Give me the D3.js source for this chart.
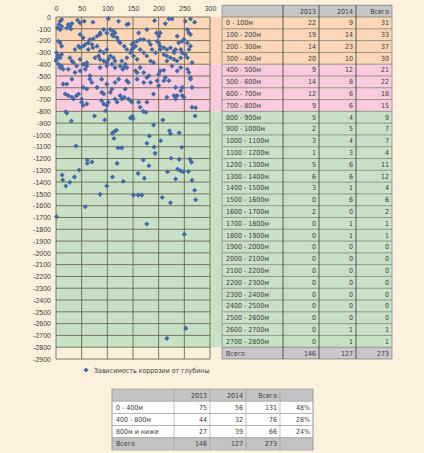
<!DOCTYPE html>
<html>
<head>
<meta charset="utf-8">
<script src="https://cdn.jsdelivr.net/npm/d3@7"></script>
<style>
	body{margin:0;background:#fdf1de;}
	svg{display:block;font-family:"Liberation Sans Narrow","DejaVu Sans Condensed","Roboto Condensed",sans-serif;}
	text{fill:#3b3b3b;}
</style>
</head>
<body>
<svg class="depthChart" width="424" height="453"></svg>
<script>

// x ticks / y ticks
var xTicks = [0,50,100,150,200,250,300];
var yTicks = [0,-100,-200,-300,-400,-500,-600,-700,-800,-900,-1000,-1100,-1200,-1300,-1400,-1500,-1600,-1700,-1800,-1900,-2000,-2100,-2200,-2300,-2400,-2500,-2600,-2700,-2800,-2900];

// depth zones (top, bottom, colour name)
var zones = [
	{from:0, to:-400, key:'a'},
	{from:-400, to:-800, key:'b'},
	{from:-800, to:-2800, key:'c'}
];

// scatter: [x, depth]
var points = [
	[11,-22],[8,-36],[6,-64],[11,-79],[8,-107],[3,-93],
	[24,-64],[27,-79],[21,-93],[29,-101],[31,-56],
	[42,-28],[47,-50],[55,-36],[72,-45],
	[102,-14],[106,-107],[112,-121],[99,-135],[109,-149],[115,-135],[93,-107],[86,-135],
	[122,-36],[138,-64],[141,-59],[161,-135],[177,-107],
	[192,-31],[196,-135],[200,-163],[203,-135],
	[213,-56],[220,-17],[226,-17],
	[252,-36],[262,-17],[270,-45],
	[256,-107],[259,-135],[262,-149],[236,-163],

	[5,-205],[8,-219],[11,-247],
	[47,-149],[53,-177],[66,-191],[73,-185],[80,-163],[86,-149],
	[57,-233],[63,-219],[70,-233],[53,-247],
	[112,-163],[119,-177],[122,-205],[125,-219],[133,-247],
	[151,-219],[158,-205],[164,-191],[151,-261],[148,-275],
	[171,-191],[181,-205],[184,-233],[197,-205],[200,-219],
	[203,-247],[210,-261],[216,-275],[223,-261],
	[239,-219],[246,-205],[249,-191],[256,-219],[262,-247],
	[230,-303],[233,-275],

	[1,-303],[5,-331],[8,-345],[11,-317],
	[37,-275],[44,-247],[47,-261],
	[63,-275],[72,-261],[80,-247],
	[86,-289],[93,-303],[99,-275],
	[106,-331],[112,-345],[138,-275],[145,-303],
	[148,-233],[155,-247],[164,-275],[171,-303],[177,-331],
	[187,-275],[194,-303],[203,-275],[210,-317],
	[216,-331],[223,-345],[230,-289],
	[243,-275],[246,-303],[252,-317],[259,-275],

	[0,-373],[1,-359],[3,-331],
	[27,-345],[31,-373],[34,-387],
	[47,-359],[53,-401],[60,-387],
	[76,-345],[83,-331],[86,-359],[93,-373],[99,-387],
	[102,-359],[115,-373],[128,-373],[138,-345],
	[151,-331],[158,-359],[184,-373],[190,-387],
	[216,-373],[230,-359],[236,-373],
	[243,-345],[256,-345],[265,-387],

	[5,-401],[8,-429],[11,-415],[14,-443],
	[24,-443],[40,-415],[57,-401],[60,-415],[57,-443],
	[47,-457],[37,-471],[86,-429],[99,-415],
	[109,-401],[115,-429],[125,-415],[132,-429],[138,-429],[135,-401],[130,-443],
	[155,-457],[158,-471],[164,-429],
	[171,-471],[181,-499],
	[200,-485],[203,-457],[210,-451],[213,-513],[210,-541],
	[226,-415],[236,-457],[243,-429],[256,-443],[259,-471],[262,-513],
	[31,-527],[21,-569],[14,-569],
	[66,-499],[66,-527],[70,-555],[89,-527],[99,-569],
	[115,-555],[122,-527],[138,-541],[141,-555],[135,-611],
	[158,-527],[171,-555],[177,-513],[184,-555],[197,-541],[200,-583],
	[220,-541],[233,-597],[246,-597],[243,-625],
	[262,-527],[265,-597],
	[18,-653],[24,-667],[31,-681],[34,-695],
	[40,-667],[44,-653],[50,-695],[53,-597],[60,-611],
	[80,-597],[89,-639],[93,-653],[106,-639],[109,-611],
	[125,-667],[128,-695],[133,-681],
	[141,-695],[145,-709],[148,-723],[161,-723],[164,-765],
	[177,-723],[190,-653],
	[216,-681],[230,-667],[236,-667],[246,-667],[233,-695],[249,-681],
	[50,-723],[53,-751],[60,-737],
	[89,-709],[93,-737],[99,-751],[102,-723],
	[115,-695],[119,-723],[265,-765],

	[19,-803],[21,-815],[30,-882],[75,-840],[95,-873],[97,-795],
	[145,-855],[150,-862],[149,-842],[170,-800],[175,-808],[208,-873],[271,-840],[272,-770],
	[190,-916],[110,-985],[114,-970],[118,-960],[221,-964],[223,-990],[240,-981],[182,-1009],
	[113,-1030],[39,-1094],[177,-1071],[204,-1049],[191,-1102],
	[121,-1110],[128,-1110],[193,-1156],[245,-1105],[224,-1198],
	[240,-1207],[261,-1207],[264,-1231],[61,-1213],[61,-1240],[70,-1229],[45,-1297],
	[119,-1241],[170,-1213],[181,-1261],[237,-1290],
	[160,-1326],[217,-1312],[243,-1305],[248,-1312],[258,-1310],[12,-1340],[13,-1383],
	[36,-1357],[110,-1357],[131,-1393],[172,-1368],[233,-1374],[265,-1385],[27,-1402],
	[19,-1433],[99,-1433],[270,-1469],
	[86,-1504],[151,-1510],[160,-1510],[167,-1510],[207,-1530],[223,-1575],[272,-1550],
	[57,-1609],[1,-1693],[177,-1755],[250,-1843],[253,-2640],[216,-2725]
];

// table by 100 m
var depthLabels = ['0 - 100м','100 - 200м','200 - 300м','300 - 400м','400 - 500м','500 - 600м','600 - 700м','700 - 800м',
	'800 - 900м','900 - 1000м','1000 - 1100м','1100 - 1200м','1200 - 1300м','1300 - 1400м','1400 - 1500м','1500 - 1600м',
	'1600 - 1700м','1700 - 1800м','1800 - 1900м','1900 - 2000м','2000 - 2100м','2100 - 2200м','2200 - 2300м','2300 - 2400м',
	'2400 - 2500м','2500 - 2600м','2600 - 2700м','2700 - 2800м'];
var count2013 = [22,19,14,20,9,14,12,9,5,2,3,1,5,6,3,0,2,0,0,0,0,0,0,0,0,0,0,0];
var count2014 = [9,14,23,10,12,8,6,6,4,5,4,3,6,6,1,6,0,1,1,0,0,0,0,0,0,0,1,1];
var countAll = [31,33,37,30,21,22,18,15,9,7,7,4,11,12,4,6,2,1,1,0,0,0,0,0,0,0,1,1];
var tableHead = ['','2013','2014','Всего'];
var tableTotal = ['Всего',146,127,273];

// summary table
var sumLabels = ['0 - 400м','400 - 800м','800м и ниже'];
var sum2013 = [75,44,27];
var sum2014 = [56,32,39];
var sumAll = [131,76,66];
var sumShare = ['48%','28%','24%'];
var sumHead = ['','2013','2014','Всего',''];
var sumTotal = ['Всего',146,127,273,''];

var legendText = 'Зависимость коррозии от глубины';

var config = {
	left:56, right:210, top:17, bottom:359,
	tableX:[222,283,319,356,392],
	sumX:[112,174,210,246,280,313],
	sumY:389, sumRow:12.2,
	zoneColors:{a:'#fbd6b8', b:'#f9cbde', c:'#c8e1c6'},
	grid:'#5d5b3f',
	marker:'#4569a6'
};

var svg = d3.select('.depthChart');

var xScale = d3.scaleLinear()
				.domain([0,300])
				.range([config.left,config.right]);

var yScale = d3.scaleLinear()
				.domain([0,-2900])
				.range([config.top,config.bottom]);

//zone bands (run under the table too)
svg.append('g')
	.selectAll('rect')
	.data(zones)
	.enter()
	.append('rect')
	.attr('x',config.left)
	.attr('y',d => yScale(d.from))
	.attr('width',config.tableX[0]-config.left)
	.attr('height',d => yScale(d.to)-yScale(d.from))
	.attr('fill',d => config.zoneColors[d.key]);

//grid
var grid = svg.append('g').attr('stroke',config.grid).attr('stroke-width',0.8);

grid.selectAll('.hline')
	.data(yTicks)
	.enter()
	.append('line')
	.attr('x1',config.left)
	.attr('x2',config.right)
	.attr('y1',d => yScale(d))
	.attr('y2',d => yScale(d));

grid.selectAll('.vline')
	.data(xTicks)
	.enter()
	.append('line')
	.attr('x1',d => xScale(d))
	.attr('x2',d => xScale(d))
	.attr('y1',yScale(0))
	.attr('y2',yScale(-2900));

//axes (labels only)
var xAxisGen = d3.axisTop(xScale).tickValues(xTicks).tickSize(0).tickPadding(6).tickFormat(d => String(d));
var yAxisGen = d3.axisLeft(yScale).tickValues(yTicks).tickSize(0).tickPadding(5).tickFormat(d => String(d));

var xAxis = svg.append('g')
	.attr('transform','translate(0,'+yScale(0)+')')
	.call(xAxisGen);
var yAxis = svg.append('g')
	.attr('transform','translate('+config.left+',0)')
	.call(yAxisGen);

[xAxis,yAxis].forEach(function(ax){
	ax.select('.domain').remove();
	ax.selectAll('text').attr('font-size',7).attr('fill','#3b3b3b').style('font-family','inherit');
});

//points
svg.append('g')
	.selectAll('path')
	.data(points)
	.enter()
	.append('path')
	.attr('d',d3.symbol().type(d3.symbolSquare).size(13))
	.attr('transform',d => 'translate('+xScale(d[0])+','+yScale(d[1])+') rotate(45)')
	.attr('fill',config.marker);

//big table
var tx = config.tableX;
var rowTop = (i) => yScale(-100*i);
var rowH = yScale(-100)-yScale(0);
var zoneOf = (i) => i<4 ? 'a' : (i<8 ? 'b' : 'c');

var table = svg.append('g');

var rows = depthLabels.map((l,i) => [l,count2013[i],count2014[i],countAll[i]]);

table.append('rect')
	.attr('x',tx[0]).attr('y',rowTop(-1))
	.attr('width',tx[4]-tx[0]).attr('height',rowH)
	.attr('fill','#c6c6c6');

table.selectAll('.rowbg')
	.data(rows)
	.enter()
	.append('rect')
	.attr('x',tx[0])
	.attr('y',(d,i) => rowTop(i))
	.attr('width',tx[4]-tx[0])
	.attr('height',rowH)
	.attr('fill',(d,i) => config.zoneColors[zoneOf(i)]);

table.append('rect')
	.attr('x',tx[0]).attr('y',rowTop(28))
	.attr('width',tx[4]-tx[0]).attr('height',rowH)
	.attr('fill','#ccc5cd');

//row lines
table.selectAll('.rline')
	.data(d3.range(-1,30))
	.enter()
	.append('line')
	.attr('x1',tx[0]).attr('x2',tx[4])
	.attr('y1',i => rowTop(i)).attr('y2',i => rowTop(i))
	.attr('stroke','#5f6a55').attr('stroke-width',0.6);

table.selectAll('.cline')
	.data(tx)
	.enter()
	.append('line')
	.attr('x1',d => d).attr('x2',d => d)
	.attr('y1',rowTop(-1)).attr('y2',rowTop(29))
	.attr('stroke',(d,i) => (i==0||i==4) ? '#8a8a8a' : '#2f3a2f')
	.attr('stroke-width',0.8);

var allRows = [tableHead].concat(rows).concat([tableTotal]);

allRows.forEach(function(r,ri){
	var yy = rowTop(ri-1)+rowH/2+2.4;
	r.forEach(function(v,ci){
		table.append('text')
			.attr('x',ci==0 ? tx[0]+4 : tx[ci+1]-3)
			.attr('y',yy)
			.attr('text-anchor',ci==0 ? 'start' : 'end')
			.attr('font-size',7)
			.text(v);
	});
});

//legend
var legend = svg.append('g').attr('transform','translate(86,370)');
legend.append('path')
	.attr('d',d3.symbol().type(d3.symbolSquare).size(13))
	.attr('transform','rotate(45)')
	.attr('fill',config.marker);
legend.append('text')
	.attr('x',8).attr('y',2.5)
	.attr('font-size',7)
	.text(legendText);

//summary table
var sx = config.sumX;
var sumRows = [sumHead].concat(sumLabels.map((l,i) => [l,sum2013[i],sum2014[i],sumAll[i],sumShare[i]])).concat([sumTotal]);

var sumTable = svg.append('g');

sumTable.selectAll('.srow')
	.data(sumRows)
	.enter()
	.append('rect')
	.attr('x',sx[0])
	.attr('y',(d,i) => config.sumY+i*config.sumRow)
	.attr('width',sx[5]-sx[0])
	.attr('height',config.sumRow)
	.attr('fill',(d,i) => (i==0||i==sumRows.length-1) ? '#c3c3c3' : '#ffffff')
	.attr('stroke','#9a9a9a')
	.attr('stroke-width',0.6);

sumTable.selectAll('.scol')
	.data(sx)
	.enter()
	.append('line')
	.attr('x1',d => d).attr('x2',d => d)
	.attr('y1',config.sumY).attr('y2',config.sumY+sumRows.length*config.sumRow)
	.attr('stroke','#9a9a9a').attr('stroke-width',0.6);

sumRows.forEach(function(r,ri){
	var yy = config.sumY+ri*config.sumRow+config.sumRow/2+2.4;
	r.forEach(function(v,ci){
		sumTable.append('text')
			.attr('x',ci==0 ? sx[0]+4 : sx[ci+1]-3)
			.attr('y',yy)
			.attr('text-anchor',ci==0 ? 'start' : 'end')
			.attr('font-size',7)
			.text(v);
	});
});

</script>
</body>
</html>
